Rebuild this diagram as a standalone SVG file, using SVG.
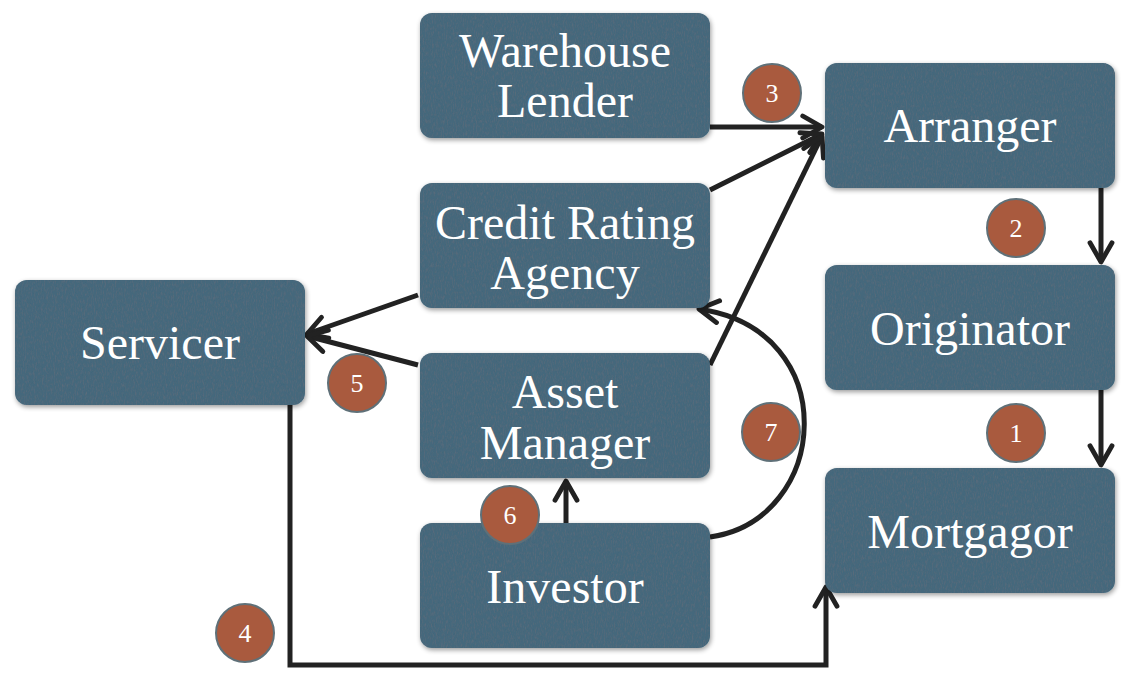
<svg xmlns="http://www.w3.org/2000/svg" width="1130" height="674" viewBox="0 0 1130 674">
<style>
.box{fill:#44677b;}
.lbl{font-family:"Liberation Serif","DejaVu Serif",serif;font-size:48px;fill:#ffffff;text-anchor:middle;}
.num{font-family:"Liberation Serif","DejaVu Serif",serif;font-size:26px;fill:#ffffff;text-anchor:middle;}
.badge{fill:#a95a3e;stroke:#5f7078;stroke-width:2;}
.con{fill:none;stroke:#222222;stroke-width:5;marker-end:url(#arr);}
</style>
<defs>
<marker id="arr" viewBox="0 0 20 20" refX="17" refY="10" markerWidth="5.5" markerHeight="5.5" markerUnits="strokeWidth" orient="auto">
<path d="M3,2 L17,10 L3,18" fill="none" stroke="#222222" stroke-width="3.5" stroke-linecap="round" stroke-linejoin="round"/>
</marker>
<filter id="tex" x="-5%" y="-5%" width="115%" height="120%">
<feTurbulence type="fractalNoise" baseFrequency="0.9 0.25" numOctaves="3" seed="4" result="n"/>
<feColorMatrix in="n" type="matrix" values="0 0 0 0 0.1  0 0 0 0 0.15  0 0 0 0 0.2  0 0 0 -2.2 1.25" result="dots"/>
<feComposite in="dots" in2="SourceGraphic" operator="in" result="dm"/>
<feMerge result="t"><feMergeNode in="SourceGraphic"/><feMergeNode in="dm"/></feMerge>
<feGaussianBlur in="SourceAlpha" stdDeviation="2.5" result="b"/>
<feOffset in="b" dx="1" dy="2" result="o"/>
<feComponentTransfer in="o" result="s"><feFuncA type="linear" slope="0.4"/></feComponentTransfer>
<feMerge><feMergeNode in="s"/><feMergeNode in="t"/></feMerge>
</filter>
</defs>
<rect width="1130" height="674" fill="#ffffff"/>

<g id="connectors">
<path class="con" d="M710,127 L822,127"/>
<path class="con" d="M710,190 L822,134"/>
<path class="con" d="M710,365 L822,136"/>
<path class="con" d="M1101,188 L1101,262"/>
<path class="con" d="M1101,390 L1101,465"/>
<path class="con" d="M418,295 L307,334"/>
<path class="con" d="M418,365 L307,336"/>
<path class="con" d="M566,523 L566,481"/>
<path class="con" d="M710,537 C830,520 845,330 699,309"/>
<path class="con" d="M290,405 L290,665 L826,665 L826,587"/>
</g>

<g id="warehouse-lender"><rect class="box" filter="url(#tex)" x="420" y="13" width="290" height="125" rx="12"/>
<text class="lbl" x="565" y="67">Warehouse</text><text class="lbl" x="565" y="117">Lender</text></g>
<g id="arranger"><rect class="box" filter="url(#tex)" x="825" y="63" width="290" height="125" rx="12"/>
<text class="lbl" x="970" y="142">Arranger</text></g>
<g id="credit-rating-agency"><rect class="box" filter="url(#tex)" x="420" y="183" width="290" height="125" rx="12"/>
<text class="lbl" x="565" y="239">Credit Rating</text><text class="lbl" x="565" y="289">Agency</text></g>
<g id="servicer"><rect class="box" filter="url(#tex)" x="15" y="280" width="290" height="125" rx="12"/>
<text class="lbl" x="160" y="359">Servicer</text></g>
<g id="originator"><rect class="box" filter="url(#tex)" x="825" y="265" width="290" height="125" rx="12"/>
<text class="lbl" x="970" y="345">Originator</text></g>
<g id="asset-manager"><rect class="box" filter="url(#tex)" x="420" y="353" width="290" height="125" rx="12"/>
<text class="lbl" x="565" y="408">Asset</text><text class="lbl" x="565" y="459">Manager</text></g>
<g id="mortgagor"><rect class="box" filter="url(#tex)" x="825" y="468" width="290" height="125" rx="12"/>
<text class="lbl" x="970" y="548">Mortgagor</text></g>
<g id="investor"><rect class="box" filter="url(#tex)" x="420" y="523" width="290" height="125" rx="12"/>
<text class="lbl" x="565" y="603">Investor</text></g>

<g id="badges">
<circle class="badge" cx="772" cy="93" r="29"/><text class="num" x="772" y="102">3</text>
<circle class="badge" cx="1016" cy="228" r="29"/><text class="num" x="1016" y="237">2</text>
<circle class="badge" cx="357" cy="383" r="29"/><text class="num" x="357" y="392">5</text>
<circle class="badge" cx="771" cy="432" r="29"/><text class="num" x="771" y="441">7</text>
<circle class="badge" cx="1016" cy="433" r="29"/><text class="num" x="1016" y="442">1</text>
<circle class="badge" cx="510" cy="515" r="29"/><text class="num" x="510" y="524">6</text>
<circle class="badge" cx="245" cy="633" r="29"/><text class="num" x="245" y="642">4</text>
</g>
</svg>
